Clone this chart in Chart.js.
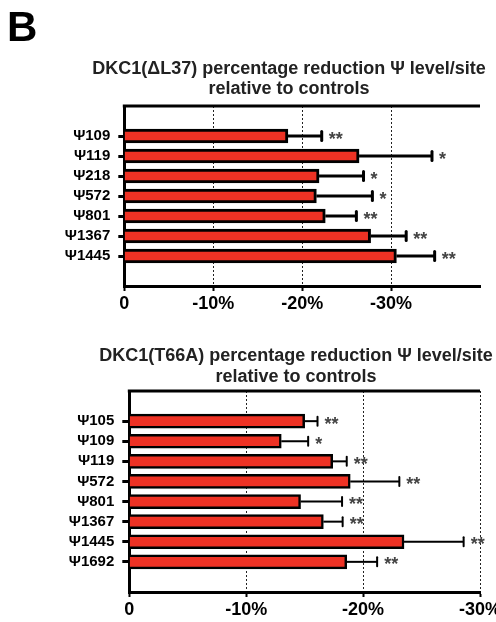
<!DOCTYPE html>
<html>
<head>
<meta charset="utf-8">
<script src="https://cdn.jsdelivr.net/npm/chart.js@4/dist/chart.umd.min.js"></script>
<style>
  body { margin: 0; background: #fff; }
  #wrap { position: relative; width: 496px; height: 622px; overflow: hidden; }
  #panel { position: absolute; left: 7px; top: 6px; font: bold 42px "Liberation Sans", Arial, sans-serif; line-height: 42px; color: #000; }
  #chart1 { position: absolute; left: 0; top: 0; }
  #chart2 { position: absolute; left: 0; top: 320px; }
</style>
</head>
<body>
<div id="wrap">
  <canvas id="chart1" width="496" height="320"></canvas>
  <canvas id="chart2" width="496" height="302"></canvas>
  <div id="panel">B</div>
</div>
<script>
// top chart: DKC1(ΔL37)
const title1 = ['DKC1(\u0394L37) percentage reduction \u03A8 level/site', 'relative to controls'];
const sites1 = ['\u03A8109', '\u03A8119', '\u03A8218', '\u03A8572', '\u03A8801', '\u03A81367', '\u03A81445'];
const values1 = [18.4, 26.4, 21.9, 21.6, 22.6, 27.7, 30.6];
const errors1 = [3.8, 8.2, 5.0, 6.3, 3.5, 4.0, 4.3];
const stars1 = ['**', '*', '*', '*', '**', '**', '**'];
const xTickLabels1 = ['0', '-10%', '-20%', '-30%', ''];

// bottom chart: DKC1(T66A)
const title2 = ['DKC1(T66A) percentage reduction \u03A8 level/site', 'relative to controls'];
const sites2 = ['\u03A8105', '\u03A8109', '\u03A8119', '\u03A8572', '\u03A8801', '\u03A81367', '\u03A81445', '\u03A81692'];
const values2 = [15.0, 13.0, 17.4, 18.9, 14.65, 16.6, 23.5, 18.6];
const errors2 = [1.1, 2.3, 1.2, 4.2, 3.55, 1.65, 5.1, 2.6];
const stars2 = ['**', '*', '**', '**', '**', '**', '**', '**'];
const xTickLabels2 = ['0', '-10%', '-20%', '-30%'];

const FONT = '"Liberation Sans", Arial, Helvetica, sans-serif';
const RED = 'rgb(238, 50, 36)';

// title, error bars, asterisks and the top frame line
const extras = {
    id: 'extras',
    afterDatasetsDraw(chart, args, o) {
        const ctx = chart.ctx;
        const x = chart.scales.x, y = chart.scales.y, a = chart.chartArea;
        ctx.save();

        ctx.fillStyle = '#222';
        ctx.font = 'bold 18px ' + FONT;
        ctx.textAlign = 'center';
        ctx.textBaseline = 'middle';
        o.title.forEach((t, i) => ctx.fillText(t, o.titleX, o.titleY + i * o.titleStep));

        ctx.strokeStyle = '#000';
        ctx.lineWidth = 3;
        ctx.beginPath();
        ctx.moveTo(a.left - 1.5, a.top);
        ctx.lineTo(a.right, a.top);
        ctx.stroke();

        o.values.forEach((v, i) => {
            const yc = y.getPixelForValue(i + 1);
            const x0 = x.getPixelForValue(v);
            const x1 = x.getPixelForValue(v + o.errors[i]);
            ctx.strokeStyle = '#000';
            ctx.lineWidth = o.errWidth;
            ctx.lineCap = 'butt';
            ctx.beginPath();
            ctx.moveTo(x0, yc);
            ctx.lineTo(x1, yc);
            ctx.stroke();
            ctx.lineCap = 'round';
            ctx.lineWidth = o.capWidth;
            ctx.beginPath();
            ctx.moveTo(x1, yc - o.capHalf);
            ctx.lineTo(x1, yc + o.capHalf);
            ctx.stroke();

            ctx.fillStyle = '#444';
            ctx.font = 'bold 18px ' + FONT;
            ctx.textAlign = 'left';
            ctx.textBaseline = 'alphabetic';
            ctx.fillText(o.stars[i], x1 + o.gap, yc + 8.5);
        });
        ctx.restore();
    }
};

function makeChart(id, p) {
    const labels = [''].concat(p.sites, ['']);
    const data = [null].concat(p.values, [null]);
    return new Chart(document.getElementById(id), {
        type: 'bar',
        data: {
            labels: labels,
            datasets: [{
                data: data,
                backgroundColor: RED,
                borderColor: '#000',
                borderWidth: p.barBorder,
                barThickness: 14
            }]
        },
        options: {
            indexAxis: 'y',
            responsive: false,
            animation: false,
            layout: { padding: { left: 0, right: 16, top: p.top, bottom: 0 } },
            scales: {
                x: {
                    type: 'linear',
                    min: 0,
                    max: p.max,
                    afterBuildTicks: s => { s.ticks = p.tickLabels.map((t, i) => ({ value: i * 10 })); },
                    afterFit: s => { s.height = p.xHeight; s.paddingLeft = 0; s.paddingRight = 0; },
                    ticks: {
                        callback: (v, i) => p.tickLabels[i],
                        font: { family: FONT, size: 18, weight: 'bold' },
                        color: '#000',
                        padding: 2,
                        maxRotation: 0,
                        autoSkip: false
                    },
                    grid: {
                        color: c => (c.tick && (c.tick.value === 0 || p.tickLabels[c.index] === '')) ? 'rgba(0,0,0,0)' : '#222',
                        lineWidth: 1,
                        drawTicks: true,
                        tickLength: 5,
                        tickWidth: 2,
                        tickColor: c => (c.tick && p.tickLabels[c.index] === '') ? 'rgba(0,0,0,0)' : '#000'
                    },
                    border: { display: true, width: 3, color: '#000', dash: [2, 2] }
                },
                y: {
                    type: 'category',
                    offset: true,
                    afterFit: s => { s.width = p.yWidth; s.paddingTop = 0; s.paddingBottom = 0; },
                    ticks: {
                        font: { family: FONT, size: 15, weight: 'bold' },
                        color: '#000',
                        padding: 8,
                        autoSkip: false
                    },
                    grid: {
                        offset: false,
                        drawOnChartArea: false,
                        drawTicks: true,
                        tickLength: p.yTick,
                        tickWidth: 3,
                        tickColor: c => labels[c.index] ? '#000' : 'rgba(0,0,0,0)'
                    },
                    border: { display: true, width: 3, color: '#000' }
                }
            },
            plugins: {
                legend: { display: false },
                tooltip: { enabled: false },
                title: { display: false },
                extras: {
                    title: p.title,
                    titleX: p.titleX,
                    titleY: p.titleY,
                    titleStep: p.titleStep,
                    values: p.values,
                    errors: p.errors,
                    stars: p.stars,
                    errWidth: p.errWidth,
                    capWidth: p.capWidth,
                    capHalf: 4.5,
                    gap: 7
                }
            }
        },
        plugins: [extras]
    });
}

const chart1 = makeChart('chart1', {
    title: title1, sites: sites1, values: values1, errors: errors1, stars: stars1,
    tickLabels: xTickLabels1, max: 40,
    top: 106, yWidth: 124.3, xHeight: 34, yTick: 6,
    titleX: 289, titleY: 69, titleStep: 20,
    barBorder: 3, errWidth: 3, capWidth: 3
});

const chart2 = makeChart('chart2', {
    title: title2, sites: sites2, values: values2, errors: errors2, stars: stars2,
    tickLabels: xTickLabels2, max: 30,
    top: 71, yWidth: 129.3, xHeight: 30, yTick: 7,
    titleX: 296, titleY: 36, titleStep: 21,
    barBorder: 2.5, errWidth: 2, capWidth: 2
});
</script>
</body>
</html>
